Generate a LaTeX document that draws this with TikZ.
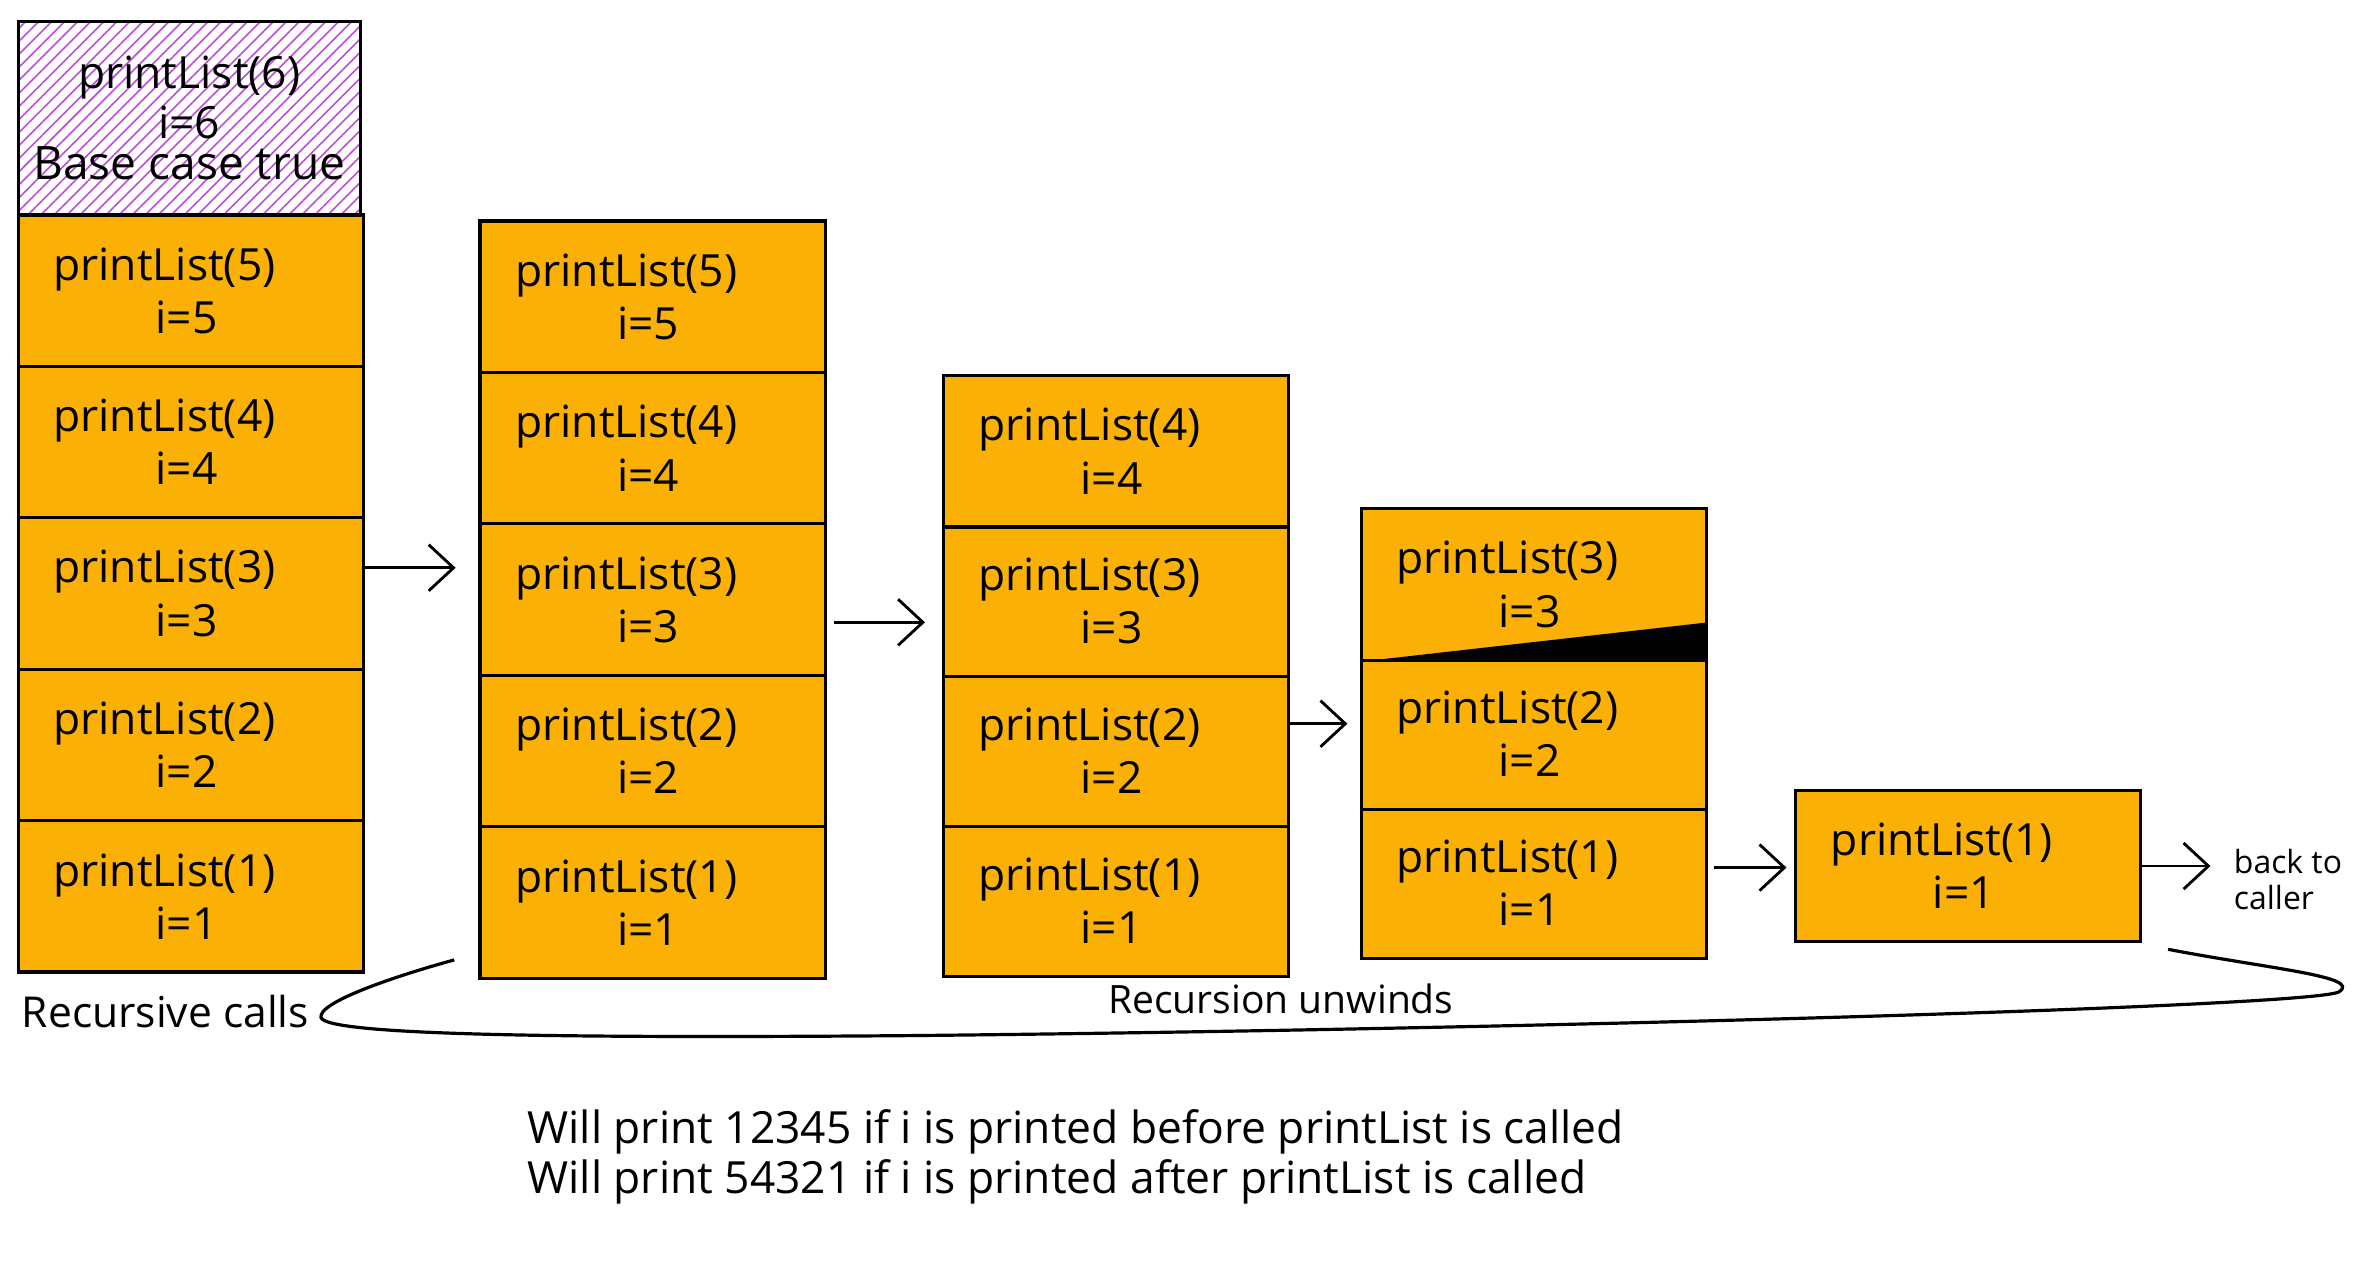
\documentclass[tikz,border=0pt]{standalone}
\usepackage{fontspec}
\setmainfont{Open Sans}
\usepackage{tikz}
\usetikzlibrary{arrows.meta,patterns.meta}
\definecolor{stackorange}{HTML}{FAB005}
\definecolor{basepurple}{HTML}{BE4BDB}
\tikzset{
	callbox/.style={draw, line width=0.9pt, fill=stackorange, minimum height=1.5cm, text width=2.72cm, inner xsep=0.35cm, inner ysep=0pt, align=left, font=\fontsize{12.5}{15}\selectfont},
	callarrow/.style={-{Straight Barb[length=7pt,width=13pt]}, line width=0.8pt},
	note/.style={inner sep=0pt, font=\fontsize{12.5}{14}\selectfont},
}
\newcommand{\calltext}[1]{printList(#1)\\\hspace*{2.3em}i=#1}

\begin{document}
\begin{tikzpicture}[x=0.015cm, y=-0.015cm]
	\useasboundingbox (0,0) rectangle (1568,841);
	\foreach \n in {1,...,5} {
		\node[callbox] (a\n) at (126, {592-100*(\n-1)}) {\calltext{\n}};
	}
	\node[draw, line width=0.9pt, pattern={Lines[angle=45,distance=2.6pt,line width=0.45pt]}, pattern color=basepurple, minimum width=3.39cm, minimum height=1.92cm, align=center, font=\fontsize{12.5}{15}\selectfont] (a6) at (125,78) {printList(6)\\[-1pt]i=6\\[-3.2pt]{\fontsize{13}{15}\selectfont Base case true}};
	\foreach \n in {1,...,5} {
		\node[callbox] (b\n) at (431, {596-100*(\n-1)}) {\calltext{\n}};
	}
	\foreach \n in {1,...,4} {
		\node[callbox] (c\n) at (737, {595-99*(\n-1)}) {\calltext{\n}};
	}
	\foreach \n in {1,...,3} {
		\node[callbox] (d\n) at (1013, {583-98.5*(\n-1)}) {\calltext{\n}};
	}
	\node[callbox] (e1) at (1300,572) {\calltext{1}};
	\fill (d3.south west) -- (d3.south east) -- ([yshift=0.39cm]d3.south east) -- cycle;

	% calls
	\coordinate (s1) at ([yshift=0.255cm]a3.east);
	\coordinate (s2) at ([yshift=-0.225cm]b3.east);
	\coordinate (s3) at ([yshift=0.27cm]c2.east);
	\coordinate (s4) at ([yshift=0.15cm]d1.east);
	\draw[callarrow, shorten >=0.225cm] (s1) -- (s1 -| b3.west);
	\draw[callarrow, shorten <=0.075cm, shorten >=0.165cm] (s2) -- (s2 -| c3.west);
	\draw[callarrow, shorten >=0.12cm] (s3) -- (s3 -| d2.west);
	\draw[callarrow, shorten <=0.06cm, shorten >=0.075cm] (s4) -- (s4 -| e1.west);

	\node[inner sep=0pt, anchor=west, align=left, font=\fontsize{9}{10}\selectfont] (caller) at (1475,581) {back to\\caller};
	\draw[callarrow, shorten >=0.225cm] (e1.east) -- (e1.east -| caller.west);

	% labels
	\node[note, anchor=west, font=\fontsize{12}{14}\selectfont] (rcalls) at (14,668) {Recursive calls};
	\node[note, font=\fontsize{11}{13}\selectfont] (unwinds) at (846,660) {Recursion unwinds};
	\node[note, anchor=west, align=left] (result) at (348,764) {Will print 12345 if i is printed before printList is called\\Will print 54321 if i is printed after printList is called};

	\coordinate (callsend) at (300,634);
	\coordinate (unwindend) at (1432,627);
	\draw[line width=0.9pt] (callsend) .. controls (260,645) and (210,662) .. (212,672) .. controls (215,683) and (350,686) .. (600,684) .. controls (1000,680) and (1530,665) .. (1545,655) .. controls (1560,645) and (1500,640) .. (unwindend);
\end{tikzpicture}
\end{document}
